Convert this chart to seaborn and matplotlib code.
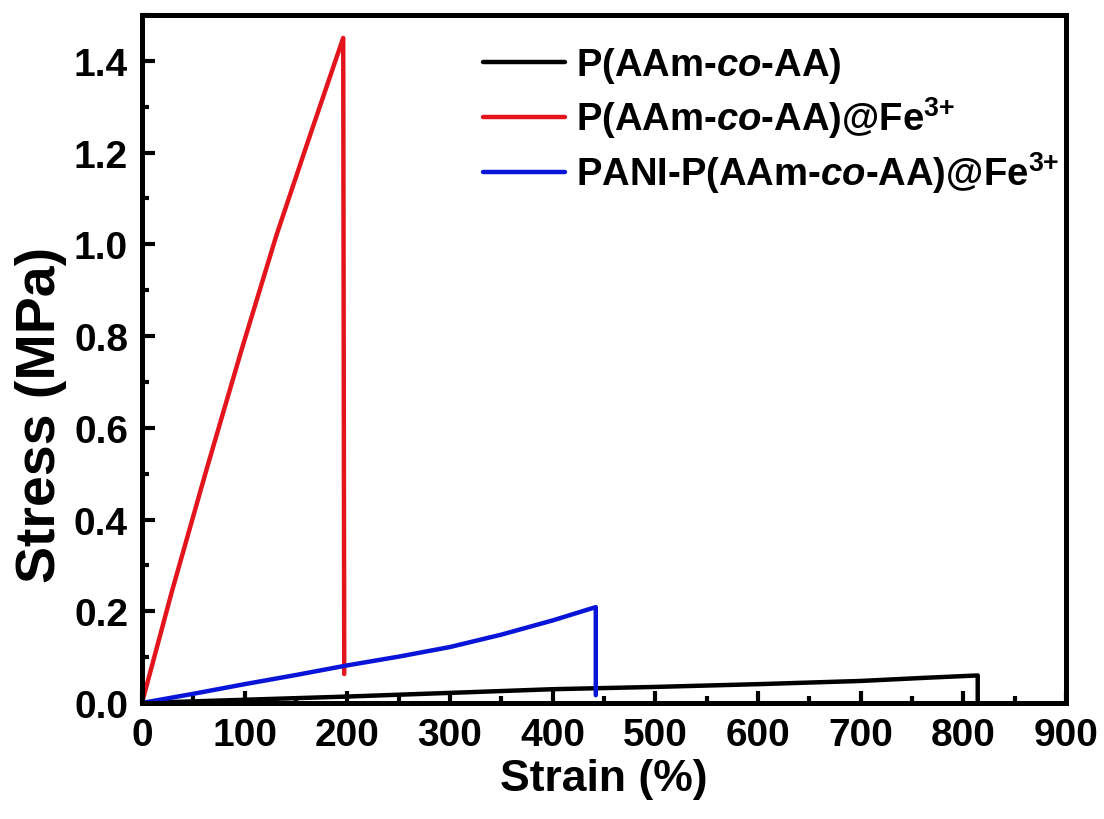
import matplotlib
matplotlib.use("Agg")
import matplotlib.pyplot as plt
import seaborn as sns
import pandas as pd
from matplotlib.ticker import MultipleLocator

# ---- data ----
strain_base = [0, 100, 200, 300, 400, 500, 600, 700, 764, 814, 814]
stress_base = [0, 0.007, 0.014, 0.022, 0.030, 0.035, 0.041, 0.048, 0.055, 0.060, 0.0]

strain_fe = [0, 29, 63, 97, 131, 161, 196, 197]
stress_fe = [0, 0.242, 0.51, 0.77, 1.02, 1.22, 1.45, 0.063]

strain_pani = [0, 50, 100, 150, 200, 250, 300, 350, 400, 442, 442]
stress_pani = [0, 0.020, 0.041, 0.061, 0.082, 0.101, 0.122, 0.149, 0.180, 0.209, 0.017]

labels = [r"P(AAm-$\mathit{co}$-AA)",
          r"P(AAm-$\mathit{co}$-AA)@Fe$^{3\text{+}}$",
          r"PANI-P(AAm-$\mathit{co}$-AA)@Fe$^{3\text{+}}$"]
colors = ["#000000", "#e3141c", "#0a14d8"]

xticks = [0, 100, 200, 300, 400, 500, 600, 700, 800, 900]
yticks = [0.0, 0.2, 0.4, 0.6, 0.8, 1.0, 1.2, 1.4]

frames = []
for lab, xs, ys in zip(labels,
                       [strain_base, strain_fe, strain_pani],
                       [stress_base, stress_fe, stress_pani]):
    frames.append(pd.DataFrame({"Strain": xs, "Stress": ys, "Sample": lab}))
df = pd.concat(frames, ignore_index=True)

sns.set_theme(style="white")
plt.rcParams["font.family"] = ["Liberation Sans", "DejaVu Sans"]
plt.rcParams["font.weight"] = "bold"
plt.rcParams["text.color"] = "black"
plt.rcParams["axes.labelcolor"] = "black"
plt.rcParams["xtick.color"] = "black"
plt.rcParams["ytick.color"] = "black"
plt.rcParams["mathtext.fontset"] = "custom"
plt.rcParams["mathtext.rm"] = "Liberation Sans:bold"
plt.rcParams["mathtext.it"] = "Liberation Sans:bold:italic"
plt.rcParams["mathtext.bf"] = "Liberation Sans:bold"

fig = plt.figure(figsize=(11.04, 8.2), dpi=100)
ax = fig.add_axes([0.1286, 0.1415, 0.9656 - 0.1286, 0.9805 - 0.1415])

sns.lineplot(data=df, x="Strain", y="Stress", hue="Sample", palette=colors,
             hue_order=labels, estimator=None, sort=False,
             linewidth=3.2, ax=ax)

ax.set_xlim(0, 900)
ax.set_ylim(0, 1.5)
ax.set_xticks(xticks)
ax.set_yticks(yticks)
ax.set_xticklabels([str(v) for v in xticks])
ax.set_yticklabels([f"{v:.1f}" for v in yticks])
ax.xaxis.set_minor_locator(MultipleLocator(50))
ax.yaxis.set_minor_locator(MultipleLocator(0.1))
ax.tick_params(axis="both", which="major", direction="in", length=9, width=3,
               labelsize=28, pad=10, bottom=True, left=True, top=False, right=False)
ax.tick_params(axis="both", which="minor", direction="in", length=5, width=3,
               bottom=True, left=True, top=False, right=False)
for lab in ax.get_xticklabels() + ax.get_yticklabels():
    lab.set_fontweight("bold")
for sp in ax.spines.values():
    sp.set_linewidth(3.6)
    sp.set_color("black")

ax.set_xlabel("Strain (%)", fontsize=32, fontweight="bold", labelpad=4)
ax.set_ylabel("Stress (MPa)", fontsize=40, fontweight="bold")
ax.yaxis.set_label_coords(-0.081, 0.42)

leg = ax.legend(loc="upper left", bbox_to_anchor=(0.352, 0.978), frameon=False,
                fontsize=27.5, handlelength=2.15, handletextpad=0.3,
                labelspacing=0.24, borderaxespad=0)
for t in leg.get_texts():
    t.set_fontweight("bold")
for h in leg.get_lines():
    h.set_linewidth(3.2)

fig.savefig("out.png", dpi=100)
